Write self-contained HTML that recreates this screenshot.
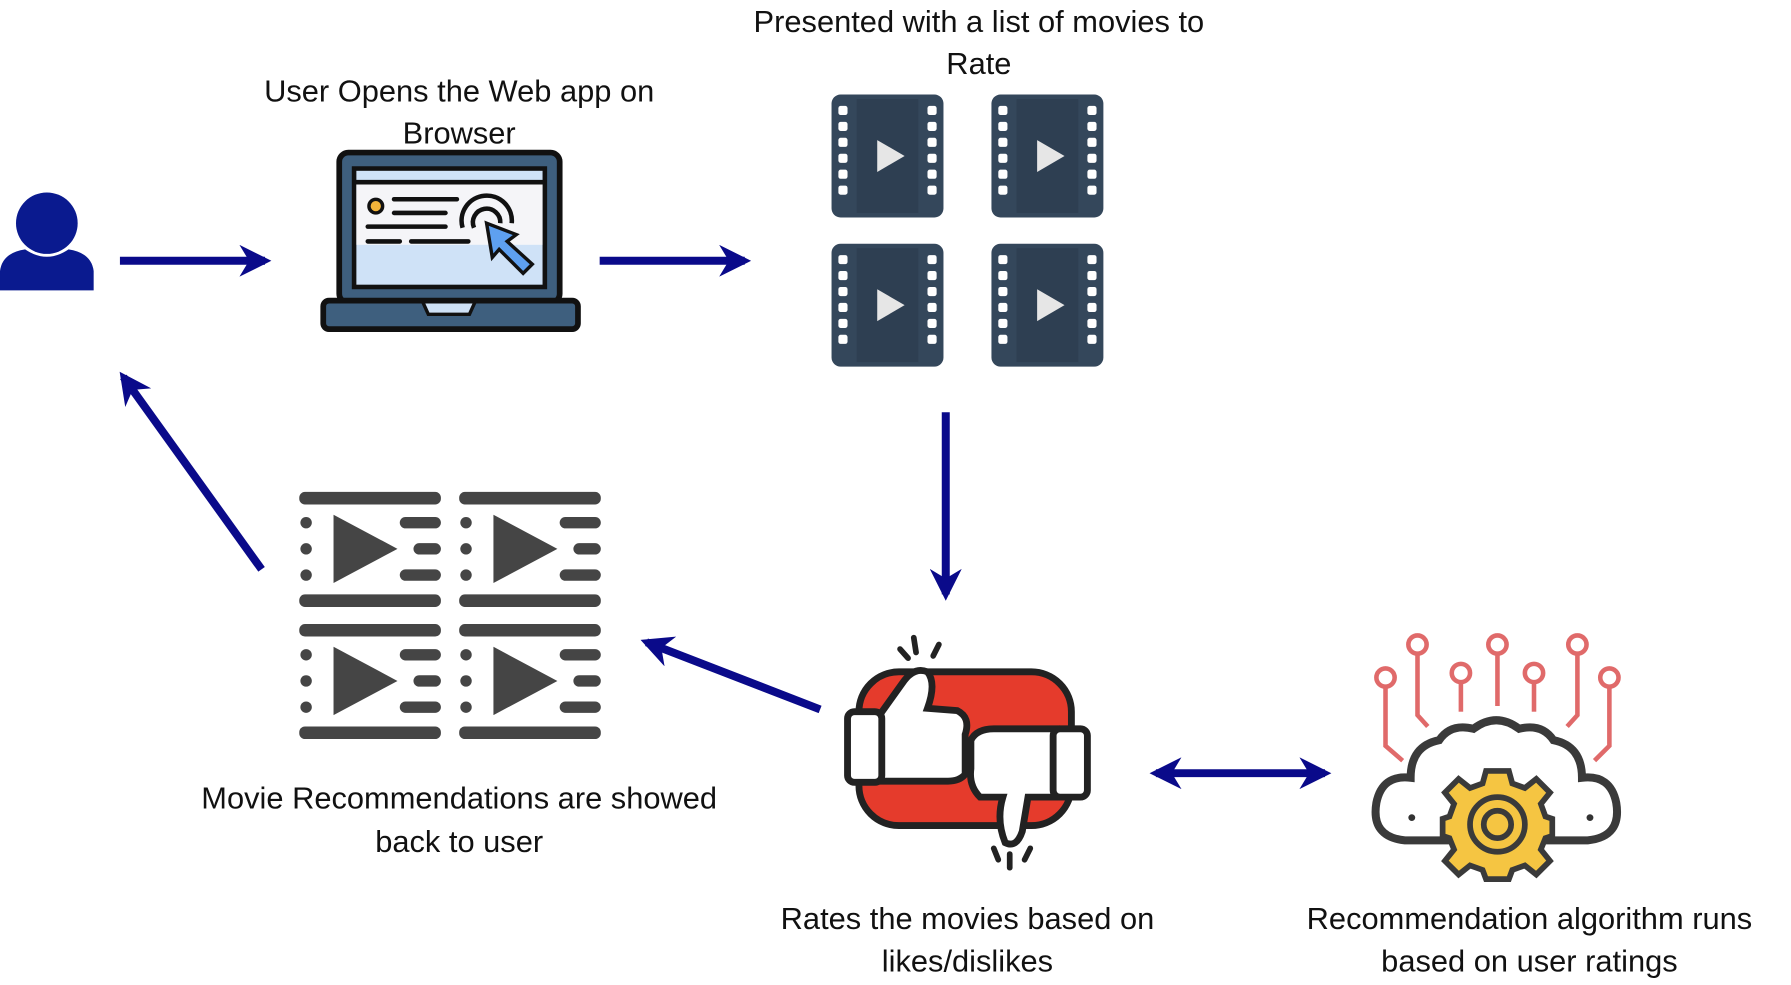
<!DOCTYPE html>
<html><head><meta charset="utf-8">
<style>
html,body{margin:0;padding:0;background:#fff;}
svg{display:block;}
text{font-family:"Liberation Sans Narrow","Liberation Sans",sans-serif;font-size:27px;fill:#111;text-anchor:middle;}
</style></head>
<body>
<svg width="1791" height="985" viewBox="0 0 1568 865" preserveAspectRatio="none" xmlns="http://www.w3.org/2000/svg">
<defs>
<marker id="ah" viewBox="0 0 10 10" refX="8" refY="5" markerWidth="4" markerHeight="4" orient="auto-start-reverse">
<path d="M0,0 L10,5 L0,10 L3,5 z" fill="#0a0a8a"/>
</marker>
<g id="film">
<rect x="0" y="0" width="98" height="108" rx="8" fill="#34475b"/>
<rect x="22" y="4" width="54" height="100" fill="#2e3f52"/>
<g fill="#fff">
<rect x="6" y="10" width="8" height="8" rx="2"/><rect x="6" y="24" width="8" height="8" rx="2"/><rect x="6" y="38" width="8" height="8" rx="2"/><rect x="6" y="52" width="8" height="8" rx="2"/><rect x="6" y="66" width="8" height="8" rx="2"/><rect x="6" y="80" width="8" height="8" rx="2"/>
<rect x="84" y="10" width="8" height="8" rx="2"/><rect x="84" y="24" width="8" height="8" rx="2"/><rect x="84" y="38" width="8" height="8" rx="2"/><rect x="84" y="52" width="8" height="8" rx="2"/><rect x="84" y="66" width="8" height="8" rx="2"/><rect x="84" y="80" width="8" height="8" rx="2"/>
</g>
<path d="M40,40 L64,54 L40,68 z" fill="#e6e6e6"/>
</g>
<g id="cell" fill="#454545">
<rect x="0" y="0" width="124" height="11" rx="5"/>
<circle cx="6" cy="27" r="5"/><circle cx="6" cy="50" r="5"/><circle cx="6" cy="73" r="5"/>
<path d="M30,20 L86,50 L30,80 z"/>
<rect x="88" y="22" width="36" height="10" rx="5"/><rect x="100" y="45" width="24" height="10" rx="5"/><rect x="88" y="68" width="36" height="10" rx="5"/>
<rect x="0" y="90" width="124" height="11" rx="5"/>
</g>
</defs>

<circle cx="41" cy="196" r="27" fill="#0a1a8f"/>
<path d="M0,255 L0,238 Q2,222 22,219 Q41,232 60,219 Q80,222 82,238 L82,255 z" fill="#0a1a8f"/>

<g stroke="#0a0a8a" stroke-width="7" fill="none" marker-end="url(#ah)">
<line x1="105" y1="229" x2="232" y2="229"/>
<line x1="525" y1="229" x2="652" y2="229"/>
<line x1="828" y1="362" x2="828" y2="522"/>
<line x1="718" y1="623" x2="566" y2="564"/>
<line x1="229" y1="500" x2="108" y2="331"/>
<line x1="1012" y1="679" x2="1160" y2="679" marker-start="url(#ah)"/>
</g>

<rect x="297" y="134" width="193" height="132" rx="8" fill="#3e5f7e" stroke="#111" stroke-width="5"/>
<rect x="310" y="148" width="167" height="104" fill="#cfe2f7" stroke="#111" stroke-width="4"/>
<rect x="312" y="160" width="163" height="55" fill="#f5f5f8"/>
<line x1="310" y1="160" x2="477" y2="160" stroke="#111" stroke-width="4"/>
<circle cx="329" cy="181" r="6" fill="#f3b43a" stroke="#111" stroke-width="3"/>
<g stroke="#111" stroke-width="4" stroke-linecap="round">
<line x1="345" y1="175" x2="400" y2="175"/><line x1="345" y1="187" x2="390" y2="187"/><line x1="322" y1="199" x2="390" y2="199"/><line x1="322" y1="212" x2="350" y2="212"/><line x1="360" y1="212" x2="410" y2="212"/>
</g>
<path d="M405,200 A22,22 0 1 1 448,196" fill="none" stroke="#111" stroke-width="4"/>
<path d="M415,200 A12,12 0 1 1 438,196" fill="none" stroke="#111" stroke-width="4"/>
<path d="M426,196 L452,206 L444,212 L466,232 L458,240 L437,219 L431,226 z" fill="#5ea0f0" stroke="#111" stroke-width="3"/>
<rect x="283" y="264" width="223" height="25" rx="5" fill="#3e5f7e" stroke="#111" stroke-width="5"/>
<path d="M370,265 L416,265 L411,276 L375,276 z" fill="#cfe2f7" stroke="#111" stroke-width="3"/>

<use href="#film" x="728" y="83"/>
<use href="#film" x="868" y="83"/>
<use href="#film" x="728" y="214"/>
<use href="#film" x="868" y="214"/>

<use href="#cell" x="262" y="432"/>
<use href="#cell" x="402" y="432"/>
<use href="#cell" x="262" y="548"/>
<use href="#cell" x="402" y="548"/>

<rect x="752" y="590" width="186" height="135" rx="35" fill="#e53b2c" stroke="#222" stroke-width="6"/>
<path d="M770,628 L790,600 Q800,585 812,590 Q820,600 812,622 L838,624 Q850,630 845,645 L845,680 Q840,686 830,686 L770,686 z" fill="#fff" stroke="#222" stroke-width="6"/>
<rect x="742" y="625" width="30" height="62" rx="6" fill="#fff" stroke="#222" stroke-width="6"/>
<path d="M925,700 L900,700 L895,730 Q890,745 880,740 Q872,720 878,700 L858,700 Q848,690 850,675 L850,650 Q855,640 870,640 L925,640 z" fill="#fff" stroke="#222" stroke-width="6"/>
<rect x="922" y="640" width="30" height="60" rx="6" fill="#fff" stroke="#222" stroke-width="6"/>
<g stroke="#222" stroke-width="5" stroke-linecap="round">
<line x1="800" y1="560" x2="802" y2="573"/><line x1="788" y1="570" x2="795" y2="578"/><line x1="822" y1="566" x2="817" y2="576"/>
<line x1="884" y1="750" x2="884" y2="762"/><line x1="870" y1="745" x2="874" y2="755"/><line x1="902" y1="745" x2="897" y2="755"/>
</g>

<g stroke="#e06a6a" stroke-width="4" fill="#fff">
<path d="M1213,604 L1213,655 L1228,668" fill="none"/><circle cx="1213" cy="595" r="8"/>
<path d="M1241,575 L1241,628 L1250,638" fill="none"/><circle cx="1241" cy="566" r="8"/>
<path d="M1279,600 L1279,625" fill="none"/><circle cx="1279" cy="591" r="8"/>
<path d="M1311,575 L1311,620" fill="none"/><circle cx="1311" cy="566" r="8"/>
<path d="M1343,600 L1343,625" fill="none"/><circle cx="1343" cy="591" r="8"/>
<path d="M1381,575 L1381,628 L1372,638" fill="none"/><circle cx="1381" cy="566" r="8"/>
<path d="M1409,604 L1409,655 L1396,668" fill="none"/><circle cx="1409" cy="595" r="8"/>
</g>
<path d="M1230,738 Q1200,735 1205,705 Q1210,680 1235,683 Q1235,655 1260,650 Q1270,635 1290,640 Q1310,625 1330,640 Q1350,635 1360,650 Q1385,655 1385,683 Q1410,680 1415,705 Q1420,735 1390,738 z" fill="#fff" stroke="#3a3a3a" stroke-width="7"/>
<circle cx="1236" cy="718" r="3" fill="#333"/><circle cx="1392" cy="718" r="3" fill="#333"/>
<g transform="translate(1311,724)">
<path d="M-10,-47 L10,-47 L13,-36 L24,-32 L34,-40 L46,-28 L38,-18 L42,-7 L48,-5 L48,10 L42,12 L38,22 L46,32 L34,44 L24,36 L13,40 L10,48 L-10,48 L-13,40 L-24,36 L-34,44 L-46,32 L-38,22 L-42,12 L-48,10 L-48,-5 L-42,-7 L-38,-18 L-46,-28 L-34,-40 L-24,-32 L-13,-36 z" fill="#f5c542" stroke="#3a3a3a" stroke-width="5"/>
<circle r="24" fill="#f5c542" stroke="#3a3a3a" stroke-width="5"/>
<circle r="12" fill="#f5c542" stroke="#3a3a3a" stroke-width="5"/>
</g>

<text x="857" y="28">Presented with a list of movies to</text>
<text x="857" y="65">Rate</text>
<text x="402" y="89">User Opens the Web app on</text>
<text x="402" y="126">Browser</text>
<text x="402" y="710">Movie Recommendations are showed</text>
<text x="402" y="748">back to user</text>
<text x="847" y="816">Rates the movies based on</text>
<text x="847" y="853">likes/dislikes</text>
<text x="1339" y="816">Recommendation algorithm runs</text>
<text x="1339" y="853">based on user ratings</text>
</svg>
</body></html>
